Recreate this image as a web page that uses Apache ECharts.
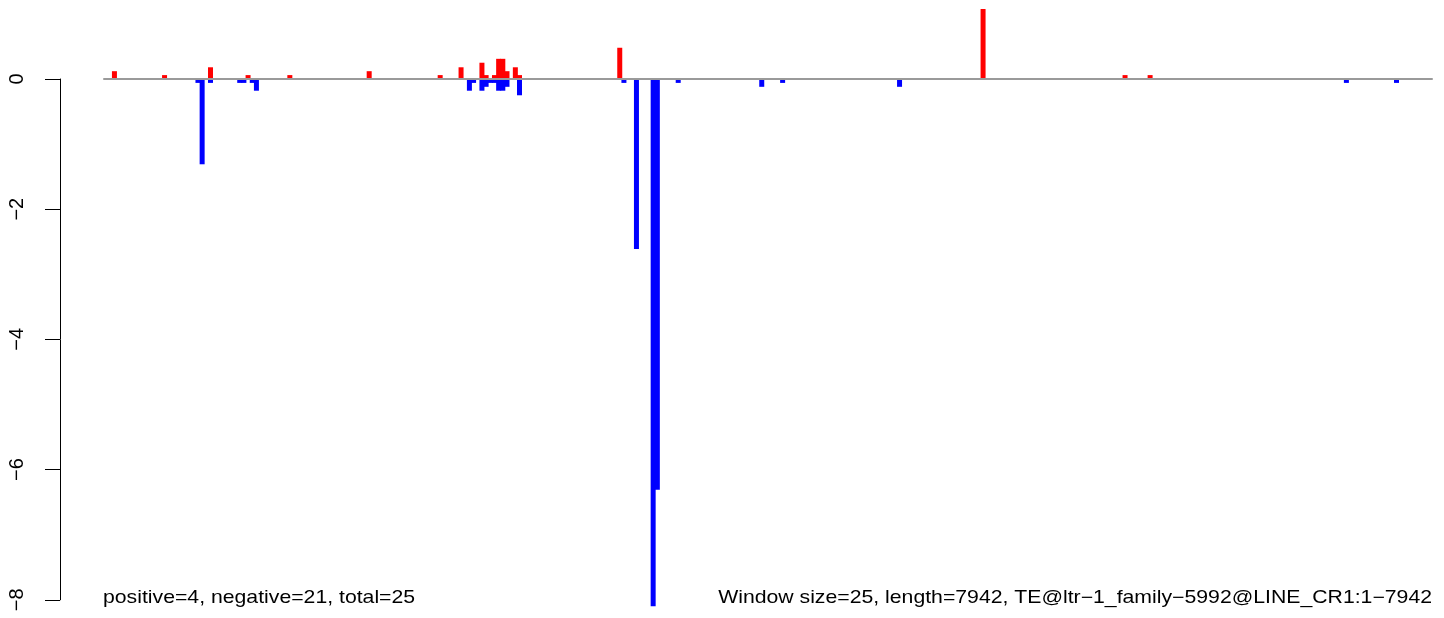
<!DOCTYPE html>
<html><head><meta charset="utf-8">
<script src="https://cdn.jsdelivr.net/npm/echarts@6/dist/echarts.min.js"></script>
<style>html,body{margin:0;padding:0;background:#fff}#c{width:1444px;height:618px}</style>
</head><body><div id="c"></div>
<script>
const windowCount = 318;
const posWindows = [2,14,25,34,44,63,80,85,90,91,93,94,95,96,98,99,123,210,244,250];
const posValues = [0.12,0.06,0.18,0.06,0.06,0.12,0.06,0.18,0.25,0.06,0.06,0.31,0.31,0.12,0.18,0.06,0.48,1.075,0.06,0.06];
const negWindows = [22,23,25,32,33,35,36,87,88,90,91,92,93,94,95,96,99,124,127,131,132,137,157,162,190,297,309];
const negValues = [-0.06,-1.31,-0.06,-0.06,-0.06,-0.06,-0.18,-0.18,-0.06,-0.18,-0.12,-0.06,-0.06,-0.18,-0.18,-0.12,-0.25,-0.06,-2.61,-8.1,-6.31,-0.06,-0.12,-0.06,-0.12,-0.06,-0.06];
const yTicks = [0,-2,-4,-6,-8];
const leftNote = 'positive=4, negative=21, total=25';
const rightNote = 'Window size=25, length=7942, TE@ltr\u22121_family\u22125992@LINE_CR1:1\u22127942';

const categories = [];
for (let i = 0; i < windowCount; i++) categories.push(String(i + 1));
const posData = new Array(windowCount).fill(null);
const negData = new Array(windowCount).fill(null);
posWindows.forEach((w, i) => { posData[w] = posValues[i]; });
negWindows.forEach((w, i) => { negData[w] = negValues[i]; });

const chart = echarts.init(document.getElementById('c'), null, {renderer: 'canvas'});
const font = '"Liberation Sans", Arial, Helvetica, sans-serif';
chart.setOption({
  animation: false,
  backgroundColor: '#ffffff',
  grid: [
    {left: 104, right: 12, top: 0.88, bottom: 5.18, containLabel: false},
    {left: 60, width: 1, top: 79, height: 520.8, containLabel: false}
  ],
  xAxis: [
    {gridIndex: 0, type: 'category', data: categories, boundaryGap: true, z: 3,
     axisLine: {show: true, onZero: true, lineStyle: {color: '#9a9a9a', width: 2}},
     axisTick: {show: false}, axisLabel: {show: false}, splitLine: {show: false}},
    {gridIndex: 1, type: 'value', show: false}
  ],
  yAxis: [
    {gridIndex: 0, type: 'value', min: -8.2, max: 1.2, show: false, splitLine: {show: false}},
    {gridIndex: 1, type: 'value', min: -8, max: 0, interval: 2,
     axisLine: {show: true, lineStyle: {color: '#000', width: 1}},
     axisTick: {show: true, length: 15, lineStyle: {color: '#000', width: 1}},
     axisLabel: {show: true, rotate: 90, margin: 33, fontSize: 20, fontFamily: font, color: '#000',
       formatter: v => (v < 0 ? '\u2212' + Math.abs(v) : String(v))},
     splitLine: {show: false}}
  ],
  series: [
    {type: 'bar', xAxisIndex: 0, yAxisIndex: 0, stack: 'w', data: posData, barWidth: 5,
     itemStyle: {color: '#ff0000'}},
    {type: 'bar', xAxisIndex: 0, yAxisIndex: 0, stack: 'w', data: negData, barWidth: 5,
     itemStyle: {color: '#0000ff'}}
  ],
  graphic: [
    {type: 'text', x: 103, y: 598, scaleX: 1.2, scaleY: 1,
     style: {text: leftNote, font: '17.7px ' + font, fill: '#000', textAlign: 'left', textVerticalAlign: 'middle', verticalAlign: 'middle'}},
    {type: 'text', x: 1432, y: 598, scaleX: 1.2, scaleY: 1,
     style: {text: rightNote, font: '17.7px ' + font, fill: '#000', textAlign: 'right', textVerticalAlign: 'middle', verticalAlign: 'middle'}}
  ]
});
</script>
</body></html>
